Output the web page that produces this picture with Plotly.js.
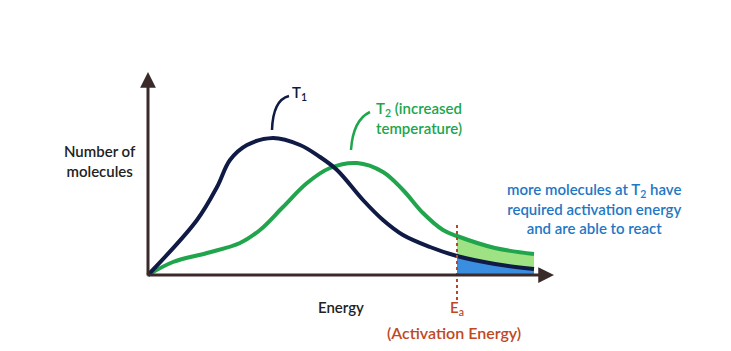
<!DOCTYPE html>
<html>
<head>
<meta charset="utf-8">
<script src="https://cdn.plot.ly/plotly-3.0.1.min.js"></script>
<style>html,body{margin:0;padding:0;background:#fff}#chart{width:731px;height:351px}</style>
</head>
<body>
<div id="chart"></div>
<script>
// Energy (arbitrary units) and number of molecules (arbitrary units)
const energyT1 = [0, 12.25, 17.25, 20.5, 24.75, 31.25, 38, 43, 47.25, 53.75, 58.75, 63.75, 70.5, 77.25, 86.75, 96.5];
const countT1  = [0, 27.5, 44, 57.5, 65, 68.5, 65, 59, 52.5, 37.5, 27.5, 20, 14, 9.5, 5.5, 3];
const energyT2 = [0, 6.25, 14.75, 23, 28, 33.75, 39.75, 45.5, 52.25, 58.75, 63.75, 68.75, 73.75, 77.25, 86.75, 96.5];
const countT2  = [0, 6.5, 11, 16, 22.5, 34, 46, 53.5, 56, 51.5, 42.5, 31, 22.5, 19.5, 13.5, 10.5];
const activationEnergy = 77.25;
const labels = {
  yTitle: 'Number of<br>molecules',
  xTitle: 'Energy',
  t1: 'T<sub>1</sub>',
  t2: 'T<sub>2</sub> (increased<br>temperature)',
  ea: 'E<sub>a</sub>',
  eaName: '(Activation Energy)',
  note: 'more molecules at T<sub>2</sub> have<br>required activation energy<br>and are able to react'
};

const navy = '#0f1a45', green = '#20a54c', axisCol = '#3a2a2a';
const FONT = 'Lato, "Open Sans", sans-serif';

function tail(xs, ys, from) {
  const ox = [], oy = [];
  xs.forEach((x, i) => { if (x >= from) { ox.push(x); oy.push(ys[i]); } });
  return [ox, oy];
}
const [t1x, t1y] = tail(energyT1, countT1, activationEnergy);
const [t2x, t2y] = tail(energyT2, countT2, activationEnergy);

const traces = [
  {x: t1x, y: t1y, mode: 'lines', line: {width: 0, shape: 'spline', smoothing: 1}, fill: 'tozeroy', fillcolor: '#3a8ee0', hoverinfo: 'skip'},
  {x: t2x, y: t2y, mode: 'lines', line: {width: 0, shape: 'spline', smoothing: 1}, fill: 'tonexty', fillcolor: '#9fe283', hoverinfo: 'skip'},
  {x: energyT2, y: countT2, mode: 'lines', line: {color: green, width: 4, shape: 'spline', smoothing: 1}},
  {x: energyT1, y: countT1, mode: 'lines', line: {color: navy, width: 4, shape: 'spline', smoothing: 1}}
];

const txt = (size, color) => ({family: FONT, size: size, color: color, weight: 600});

const layout = {
  width: 731, height: 351,
  margin: {l: 0, r: 0, t: 0, b: 0},
  paper_bgcolor: '#fff', plot_bgcolor: '#fff',
  showlegend: false,
  xaxis: {range: [-37, 145.75], visible: false, fixedrange: true},
  yaxis: {range: [-38, 137.5], visible: false, fixedrange: true},
  shapes: [
    {type: 'line', xref: 'x', yref: 'y', x0: activationEnergy, x1: activationEnergy, y0: 25, y1: -14,
     line: {color: '#b8452a', width: 2, dash: 'dot'}},
    {type: 'path', xref: 'x', yref: 'y', path: 'M 31,72.5 Q 31.25,87.5 35.25,89.5', line: {color: navy, width: 2.5}},
    {type: 'path', xref: 'x', yref: 'y', path: 'M 50.75,62.5 Q 51.25,77.5 55.5,81.5', line: {color: green, width: 2.5}}
  ],
  annotations: [
    {x: 101.5, y: 0, ax: -0.5, ay: 0, axref: 'x', ayref: 'y', xref: 'x', yref: 'y', text: '', showarrow: true,
     arrowhead: 2, arrowsize: 1.05, arrowwidth: 3, arrowcolor: axisCol, standoff: 0},
    {x: 0, y: 101.5, ax: 0, ay: -1, axref: 'x', ayref: 'y', xref: 'x', yref: 'y', text: '', showarrow: true,
     arrowhead: 2, arrowsize: 1.05, arrowwidth: 3, arrowcolor: axisCol, standoff: 0},
    {x: -12, y: 57, text: labels.yTitle, showarrow: false, font: txt(15, '#222')},
    {x: 48.25, y: -16, text: labels.xTitle, showarrow: false, font: txt(15, '#222')},
    {x: 77.25, y: -16.5, text: labels.ea, showarrow: false, font: txt(15, '#c0481f')},
    {x: 76.5, y: -28.5, text: labels.eaName, showarrow: false, font: txt(16, '#c0481f')},
    {x: 35.5, y: 91, text: labels.t1, showarrow: false, xanchor: 'left', font: txt(15, navy)},
    {x: 56.5, y: 78.5, text: labels.t2, showarrow: false, xanchor: 'left', align: 'left', font: txt(15, green)},
    {x: 111.5, y: 33.5, text: labels.note, showarrow: false, align: 'center', font: txt(15, '#2277c4')}
  ]
};

Plotly.newPlot('chart', traces, layout, {displayModeBar: false, staticPlot: true});
</script>
</body>
</html>
